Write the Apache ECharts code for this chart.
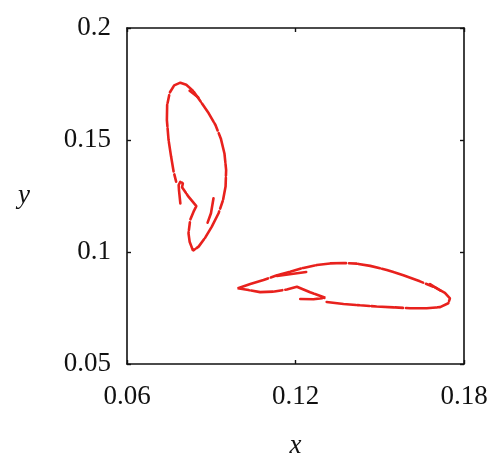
<!DOCTYPE html>
<html><head><meta charset="utf-8">
<script src="https://cdn.jsdelivr.net/npm/echarts@6/dist/echarts.min.js"></script>
<style>html,body{margin:0;padding:0;background:#fff}#c{width:500px;height:469px}</style>
</head><body><div id="c"></div>
<script>
var xTicks = [0.06, 0.12, 0.18];
var yTicks = [0.05, 0.1, 0.15, 0.2];
var loopA = [[0.0790,0.1217],[0.0785,0.1277],[0.0784,0.1299],[0.0790,0.1314],[0.0799,0.1307],[0.0796,0.1289],[0.0819,0.1247],[0.0847,0.1205],[0.0837,0.1180],[0.0825,0.1143],[0.0819,0.1083],[0.0823,0.1046],[0.0835,0.1006],[0.0841,0.0999],[0.0855,0.1024],[0.0879,0.1065],[0.0902,0.1113],[0.0926,0.1173],[0.0942,0.1232],[0.0951,0.1292],[0.0953,0.1366],[0.0947,0.1440],[0.0934,0.1507],[0.0915,0.1567],[0.0891,0.1619],[0.0861,0.1674],[0.0835,0.1720],[0.0811,0.1747],[0.0790,0.1756],[0.0768,0.1744],[0.0752,0.1711],[0.0743,0.1656],[0.0742,0.1589],[0.0748,0.1500],[0.0757,0.1426],[0.0766,0.1359],[0.0775,0.1314]];
var loopAInner = [[0.0908,0.1240],[0.0899,0.1173],[0.0887,0.1131]];
var loopATop = [[0.0823,0.1720],[0.0854,0.1690]];
var loopB = [[0.1217,0.0790],[0.1264,0.0789],[0.1306,0.0796],[0.1252,0.0820],[0.1205,0.0845],[0.1169,0.0833],[0.1122,0.0823],[0.1074,0.0821],[0.1033,0.0830],[0.0994,0.0838],[0.1039,0.0857],[0.1086,0.0875],[0.1134,0.0896],[0.1181,0.0912],[0.1228,0.0929],[0.1276,0.0942],[0.1323,0.0949],[0.1371,0.0951],[0.1418,0.0948],[0.1466,0.0938],[0.1525,0.0920],[0.1584,0.0896],[0.1643,0.0869],[0.1697,0.0842],[0.1732,0.0818],[0.1750,0.0793],[0.1744,0.0771],[0.1715,0.0754],[0.1667,0.0749],[0.1608,0.0749],[0.1549,0.0753],[0.1489,0.0757],[0.1430,0.0762],[0.1371,0.0768],[0.1311,0.0777]];
var loopBInner = [[0.1134,0.0893],[0.1238,0.0911]];
var loopBRight = [[0.1679,0.0857],[0.1717,0.0827]];

var red = '#e8211d';
var font = '"Liberation Serif", "Times New Roman", Times, serif';
function seg(d, dashed) {
  return {type:'line', data:d, symbol:'none', silent:true,
    lineStyle:{color:red, width:2.6, type: dashed ? [22,2,12,1.5,30,3,8,1.5] : 'solid', cap:'round'}};
}
var chart = echarts.init(document.getElementById('c'), null, {renderer:'canvas'});
function ax(extra) {
  var o = {type:'value', splitLine:{show:false},
    axisLine:{show:true, lineStyle:{color:'#111', width:1.6}},
    axisTick:{show:true, inside:true, length:4, lineStyle:{color:'#111', width:1.4}}};
  for (var k in extra) o[k] = extra[k];
  return o;
}
function fmt(v){return String(+v.toFixed(2));}
chart.setOption({
  animation:false,
  grid:{left:127, right:36, top:28, bottom:105},
  xAxis:[
    ax({min:xTicks[0], max:xTicks[2], interval:0.06, position:'bottom',
      name:'x', nameLocation:'middle', nameGap:68,
      nameTextStyle:{fontFamily:font, fontStyle:'italic', fontSize:27, color:'#111'},
      axisLabel:{fontFamily:font, fontSize:27, color:'#111', margin:19, formatter:fmt}}),
    ax({min:xTicks[0], max:xTicks[2], interval:0.06, position:'top', axisLabel:{show:false}})
  ],
  yAxis:[
    ax({min:yTicks[0], max:yTicks[3], interval:0.05, position:'left',
      name:'y', nameLocation:'middle', nameGap:97, nameRotate:0,
      nameTextStyle:{fontFamily:font, fontStyle:'italic', fontSize:27, color:'#111'},
      axisLabel:{fontFamily:font, fontSize:27, color:'#111', margin:16, formatter:fmt}}),
    ax({min:yTicks[0], max:yTicks[3], interval:0.05, position:'right', axisLabel:{show:false}})
  ],
  series:[seg(loopA,true), seg(loopAInner,false), seg(loopATop,false), seg(loopB,true), seg(loopBInner,false), seg(loopBRight,false)]
});
</script></body></html>
